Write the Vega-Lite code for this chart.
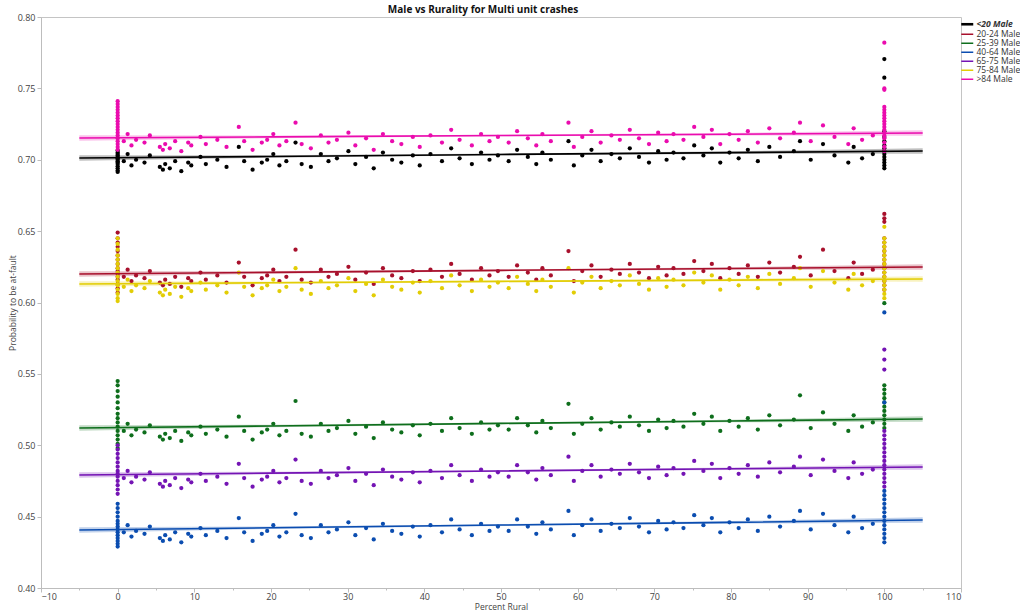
{
  "$schema": "https://vega.github.io/schema/vega-lite/v6.json",
  "width": 920,
  "height": 571,
  "autosize": {"type": "none"},
  "padding": {"left": 41, "top": 17, "right": 59, "bottom": 25},
  "background": "white",
  "config": {
    "view": {"stroke": "#c4c4c4", "strokeWidth": 1},
    "font": "Open Sans",
    "axis": {
      "grid": false,
      "domainColor": "#bdbdbd",
      "tickColor": "#bdbdbd",
      "labelColor": "#444444",
      "labelFont": "Open Sans",
      "labelFontSize": 9,
      "titleFont": "Open Sans",
      "titleFontSize": 8.5,
      "titleFontWeight": "normal",
      "titleColor": "#444444"
    }
  },
  "title": {
    "text": "Male vs Rurality for Multi unit crashes",
    "font": "Open Sans",
    "fontSize": 10,
    "fontWeight": "bold",
    "color": "#111111",
    "anchor": "middle",
    "frame": "group",
    "dx": -18,
    "offset": -2
  },
  "resolve": {"legend": {"color": "independent"}},
  "datasets": {
    "fits": [
      {"g": "<20 Male", "x": -5, "y": 0.7012, "lo": 0.6993, "hi": 0.7031},
      {"g": "<20 Male", "x": 20, "y": 0.7023, "lo": 0.7014, "hi": 0.7032},
      {"g": "<20 Male", "x": 50, "y": 0.7037, "lo": 0.7031, "hi": 0.7043},
      {"g": "<20 Male", "x": 80, "y": 0.7050, "lo": 0.7041, "hi": 0.7059},
      {"g": "<20 Male", "x": 105, "y": 0.7061, "lo": 0.7042, "hi": 0.7080},
      {"g": "20-24 Male", "x": -5, "y": 0.6200, "lo": 0.6181, "hi": 0.6219},
      {"g": "20-24 Male", "x": 20, "y": 0.6211, "lo": 0.6202, "hi": 0.6220},
      {"g": "20-24 Male", "x": 50, "y": 0.6225, "lo": 0.6219, "hi": 0.6231},
      {"g": "20-24 Male", "x": 80, "y": 0.6238, "lo": 0.6229, "hi": 0.6247},
      {"g": "20-24 Male", "x": 105, "y": 0.6249, "lo": 0.6230, "hi": 0.6268},
      {"g": "25-39 Male", "x": -5, "y": 0.5121, "lo": 0.5102, "hi": 0.5140},
      {"g": "25-39 Male", "x": 20, "y": 0.5135, "lo": 0.5126, "hi": 0.5144},
      {"g": "25-39 Male", "x": 50, "y": 0.5153, "lo": 0.5147, "hi": 0.5159},
      {"g": "25-39 Male", "x": 80, "y": 0.5170, "lo": 0.5161, "hi": 0.5179},
      {"g": "25-39 Male", "x": 105, "y": 0.5184, "lo": 0.5165, "hi": 0.5203},
      {"g": "40-64 Male", "x": -5, "y": 0.4406, "lo": 0.4387, "hi": 0.4425},
      {"g": "40-64 Male", "x": 20, "y": 0.4422, "lo": 0.4413, "hi": 0.4431},
      {"g": "40-64 Male", "x": 50, "y": 0.4441, "lo": 0.4435, "hi": 0.4447},
      {"g": "40-64 Male", "x": 80, "y": 0.4460, "lo": 0.4451, "hi": 0.4469},
      {"g": "40-64 Male", "x": 105, "y": 0.4476, "lo": 0.4457, "hi": 0.4495},
      {"g": "65-75 Male", "x": -5, "y": 0.4792, "lo": 0.4773, "hi": 0.4811},
      {"g": "65-75 Male", "x": 20, "y": 0.4805, "lo": 0.4796, "hi": 0.4814},
      {"g": "65-75 Male", "x": 50, "y": 0.4820, "lo": 0.4814, "hi": 0.4826},
      {"g": "65-75 Male", "x": 80, "y": 0.4835, "lo": 0.4826, "hi": 0.4844},
      {"g": "65-75 Male", "x": 105, "y": 0.4848, "lo": 0.4829, "hi": 0.4867},
      {"g": "75-84 Male", "x": -5, "y": 0.6130, "lo": 0.6111, "hi": 0.6149},
      {"g": "75-84 Male", "x": 20, "y": 0.6138, "lo": 0.6129, "hi": 0.6147},
      {"g": "75-84 Male", "x": 50, "y": 0.6148, "lo": 0.6142, "hi": 0.6154},
      {"g": "75-84 Male", "x": 80, "y": 0.6157, "lo": 0.6148, "hi": 0.6166},
      {"g": "75-84 Male", "x": 105, "y": 0.6165, "lo": 0.6146, "hi": 0.6184},
      {"g": ">84 Male", "x": -5, "y": 0.7152, "lo": 0.7133, "hi": 0.7171},
      {"g": ">84 Male", "x": 20, "y": 0.7160, "lo": 0.7151, "hi": 0.7169},
      {"g": ">84 Male", "x": 50, "y": 0.7170, "lo": 0.7164, "hi": 0.7176},
      {"g": ">84 Male", "x": 80, "y": 0.7179, "lo": 0.7170, "hi": 0.7188},
      {"g": ">84 Male", "x": 105, "y": 0.7187, "lo": 0.7168, "hi": 0.7206}
    ],
    "pts": [
      {"g":"<20 Male","x":0,"y":0.7065},{"g":"<20 Male","x":0,"y":0.705},{"g":"<20 Male","x":0,"y":0.704},{"g":"<20 Male","x":0,"y":0.703},{"g":"<20 Male","x":0,"y":0.702},{"g":"<20 Male","x":0,"y":0.701},{"g":"<20 Male","x":0,"y":0.700},{"g":"<20 Male","x":0,"y":0.699},{"g":"<20 Male","x":0,"y":0.698},{"g":"<20 Male","x":0,"y":0.697},{"g":"<20 Male","x":0,"y":0.6955},{"g":"<20 Male","x":0,"y":0.694},{"g":"<20 Male","x":0,"y":0.6925},{"g":"<20 Male","x":0,"y":0.6915},
      {"g":"<20 Male","x":0.8,"y":0.699},{"g":"<20 Male","x":1.3,"y":0.704},{"g":"<20 Male","x":1.8,"y":0.696},{"g":"<20 Male","x":2.4,"y":0.700},{"g":"<20 Male","x":3.5,"y":0.698},{"g":"<20 Male","x":4.2,"y":0.703},{"g":"<20 Male","x":5.5,"y":0.695},{"g":"<20 Male","x":5.9,"y":0.693},{"g":"<20 Male","x":6.2,"y":0.697},{"g":"<20 Male","x":6.8,"y":0.694},{"g":"<20 Male","x":7.5,"y":0.699},{"g":"<20 Male","x":8.3,"y":0.692},{"g":"<20 Male","x":9.2,"y":0.698},{"g":"<20 Male","x":9.6,"y":0.696},{"g":"<20 Male","x":10.8,"y":0.702},{"g":"<20 Male","x":11.5,"y":0.697},{"g":"<20 Male","x":13.0,"y":0.700},{"g":"<20 Male","x":14.2,"y":0.695},{"g":"<20 Male","x":15.8,"y":0.709},{"g":"<20 Male","x":16.5,"y":0.699},{"g":"<20 Male","x":17.6,"y":0.693},{"g":"<20 Male","x":18.8,"y":0.698},{"g":"<20 Male","x":19.5,"y":0.700},{"g":"<20 Male","x":20.3,"y":0.704},{"g":"<20 Male","x":21.1,"y":0.696},{"g":"<20 Male","x":22.0,"y":0.699},{"g":"<20 Male","x":23.2,"y":0.712},{"g":"<20 Male","x":24.0,"y":0.697},
      {"g":"<20 Male","x":25.2,"y":0.695},{"g":"<20 Male","x":26.5,"y":0.704},{"g":"<20 Male","x":27.5,"y":0.699},{"g":"<20 Male","x":28.6,"y":0.701},{"g":"<20 Male","x":30.1,"y":0.706},{"g":"<20 Male","x":31.0,"y":0.697},{"g":"<20 Male","x":32.4,"y":0.702},{"g":"<20 Male","x":33.4,"y":0.694},{"g":"<20 Male","x":34.6,"y":0.705},{"g":"<20 Male","x":35.8,"y":0.700},{"g":"<20 Male","x":37.0,"y":0.698},{"g":"<20 Male","x":38.5,"y":0.703},{"g":"<20 Male","x":39.4,"y":0.696},{"g":"<20 Male","x":40.8,"y":0.704},{"g":"<20 Male","x":42.3,"y":0.699},{"g":"<20 Male","x":43.5,"y":0.708},{"g":"<20 Male","x":44.6,"y":0.701},{"g":"<20 Male","x":46.2,"y":0.697},{"g":"<20 Male","x":47.4,"y":0.705},{"g":"<20 Male","x":48.5,"y":0.700},{"g":"<20 Male","x":49.6,"y":0.703},
      {"g":"<20 Male","x":51.0,"y":0.699},{"g":"<20 Male","x":52.1,"y":0.707},{"g":"<20 Male","x":53.5,"y":0.702},{"g":"<20 Male","x":54.6,"y":0.697},{"g":"<20 Male","x":55.4,"y":0.705},{"g":"<20 Male","x":56.5,"y":0.700},{"g":"<20 Male","x":58.8,"y":0.713},{"g":"<20 Male","x":59.5,"y":0.696},{"g":"<20 Male","x":60.6,"y":0.703},{"g":"<20 Male","x":61.8,"y":0.707},{"g":"<20 Male","x":63.0,"y":0.699},{"g":"<20 Male","x":64.4,"y":0.704},{"g":"<20 Male","x":65.5,"y":0.701},{"g":"<20 Male","x":66.8,"y":0.708},{"g":"<20 Male","x":68.0,"y":0.702},{"g":"<20 Male","x":69.3,"y":0.698},{"g":"<20 Male","x":70.5,"y":0.706},{"g":"<20 Male","x":71.6,"y":0.700},{"g":"<20 Male","x":72.5,"y":0.705},{"g":"<20 Male","x":73.8,"y":0.701},
      {"g":"<20 Male","x":75.2,"y":0.710},{"g":"<20 Male","x":76.4,"y":0.703},{"g":"<20 Male","x":77.5,"y":0.708},{"g":"<20 Male","x":78.6,"y":0.698},{"g":"<20 Male","x":79.8,"y":0.705},{"g":"<20 Male","x":81.0,"y":0.701},{"g":"<20 Male","x":82.2,"y":0.707},{"g":"<20 Male","x":83.5,"y":0.699},{"g":"<20 Male","x":85.0,"y":0.709},{"g":"<20 Male","x":86.4,"y":0.702},{"g":"<20 Male","x":88.2,"y":0.706},{"g":"<20 Male","x":89.0,"y":0.713},{"g":"<20 Male","x":90.4,"y":0.700},{"g":"<20 Male","x":92.0,"y":0.711},{"g":"<20 Male","x":93.5,"y":0.703},{"g":"<20 Male","x":95.3,"y":0.698},{"g":"<20 Male","x":96.0,"y":0.709},{"g":"<20 Male","x":97.1,"y":0.701},{"g":"<20 Male","x":98.5,"y":0.704},
      {"g":"<20 Male","x":100,"y":0.7705},{"g":"<20 Male","x":100,"y":0.7575},{"g":"<20 Male","x":100,"y":0.720},{"g":"<20 Male","x":100,"y":0.716},{"g":"<20 Male","x":100,"y":0.713},{"g":"<20 Male","x":100,"y":0.710},{"g":"<20 Male","x":100,"y":0.708},{"g":"<20 Male","x":100,"y":0.706},{"g":"<20 Male","x":100,"y":0.704},{"g":"<20 Male","x":100,"y":0.702},{"g":"<20 Male","x":100,"y":0.700},{"g":"<20 Male","x":100,"y":0.698},{"g":"<20 Male","x":100,"y":0.696},{"g":"<20 Male","x":100,"y":0.694},

      {"g":"20-24 Male","x":0,"y":0.649},{"g":"20-24 Male","x":0,"y":0.645},{"g":"20-24 Male","x":0,"y":0.642},{"g":"20-24 Male","x":0,"y":0.639},{"g":"20-24 Male","x":0,"y":0.636},{"g":"20-24 Male","x":0,"y":0.633},{"g":"20-24 Male","x":0,"y":0.630},{"g":"20-24 Male","x":0,"y":0.627},{"g":"20-24 Male","x":0,"y":0.624},{"g":"20-24 Male","x":0,"y":0.622},{"g":"20-24 Male","x":0,"y":0.620},{"g":"20-24 Male","x":0,"y":0.618},{"g":"20-24 Male","x":0,"y":0.616},{"g":"20-24 Male","x":0,"y":0.613},{"g":"20-24 Male","x":0,"y":0.610},{"g":"20-24 Male","x":0,"y":0.607},
      {"g":"20-24 Male","x":0.8,"y":0.618},{"g":"20-24 Male","x":1.3,"y":0.623},{"g":"20-24 Male","x":1.8,"y":0.615},{"g":"20-24 Male","x":2.4,"y":0.619},{"g":"20-24 Male","x":3.5,"y":0.617},{"g":"20-24 Male","x":4.2,"y":0.622},{"g":"20-24 Male","x":5.5,"y":0.614},{"g":"20-24 Male","x":5.9,"y":0.612},{"g":"20-24 Male","x":6.2,"y":0.616},{"g":"20-24 Male","x":6.8,"y":0.613},{"g":"20-24 Male","x":7.5,"y":0.618},{"g":"20-24 Male","x":8.3,"y":0.611},{"g":"20-24 Male","x":9.2,"y":0.617},{"g":"20-24 Male","x":9.6,"y":0.615},{"g":"20-24 Male","x":10.8,"y":0.621},{"g":"20-24 Male","x":11.5,"y":0.616},{"g":"20-24 Male","x":13.0,"y":0.619},{"g":"20-24 Male","x":14.2,"y":0.614},{"g":"20-24 Male","x":15.8,"y":0.628},{"g":"20-24 Male","x":16.5,"y":0.618},{"g":"20-24 Male","x":17.6,"y":0.612},{"g":"20-24 Male","x":18.8,"y":0.617},{"g":"20-24 Male","x":19.5,"y":0.619},{"g":"20-24 Male","x":20.3,"y":0.623},{"g":"20-24 Male","x":21.1,"y":0.615},{"g":"20-24 Male","x":22.0,"y":0.618},{"g":"20-24 Male","x":23.2,"y":0.637},{"g":"20-24 Male","x":24.0,"y":0.616},
      {"g":"20-24 Male","x":25.2,"y":0.614},{"g":"20-24 Male","x":26.5,"y":0.623},{"g":"20-24 Male","x":27.5,"y":0.618},{"g":"20-24 Male","x":28.6,"y":0.620},{"g":"20-24 Male","x":30.1,"y":0.625},{"g":"20-24 Male","x":31.0,"y":0.616},{"g":"20-24 Male","x":32.4,"y":0.621},{"g":"20-24 Male","x":33.4,"y":0.613},{"g":"20-24 Male","x":34.6,"y":0.624},{"g":"20-24 Male","x":35.8,"y":0.619},{"g":"20-24 Male","x":37.0,"y":0.617},{"g":"20-24 Male","x":38.5,"y":0.622},{"g":"20-24 Male","x":39.4,"y":0.615},{"g":"20-24 Male","x":40.8,"y":0.623},{"g":"20-24 Male","x":42.3,"y":0.618},{"g":"20-24 Male","x":43.5,"y":0.627},{"g":"20-24 Male","x":44.6,"y":0.620},{"g":"20-24 Male","x":46.2,"y":0.616},{"g":"20-24 Male","x":47.4,"y":0.624},{"g":"20-24 Male","x":48.5,"y":0.619},{"g":"20-24 Male","x":49.6,"y":0.622},
      {"g":"20-24 Male","x":51.0,"y":0.618},{"g":"20-24 Male","x":52.1,"y":0.626},{"g":"20-24 Male","x":53.5,"y":0.621},{"g":"20-24 Male","x":54.6,"y":0.616},{"g":"20-24 Male","x":55.4,"y":0.624},{"g":"20-24 Male","x":56.5,"y":0.619},{"g":"20-24 Male","x":58.8,"y":0.636},{"g":"20-24 Male","x":59.5,"y":0.615},{"g":"20-24 Male","x":60.6,"y":0.622},{"g":"20-24 Male","x":61.8,"y":0.626},{"g":"20-24 Male","x":63.0,"y":0.618},{"g":"20-24 Male","x":64.4,"y":0.623},{"g":"20-24 Male","x":65.5,"y":0.620},{"g":"20-24 Male","x":66.8,"y":0.627},{"g":"20-24 Male","x":68.0,"y":0.621},{"g":"20-24 Male","x":69.3,"y":0.617},{"g":"20-24 Male","x":70.5,"y":0.625},{"g":"20-24 Male","x":71.6,"y":0.619},{"g":"20-24 Male","x":72.5,"y":0.624},{"g":"20-24 Male","x":73.8,"y":0.620},
      {"g":"20-24 Male","x":75.2,"y":0.629},{"g":"20-24 Male","x":76.4,"y":0.622},{"g":"20-24 Male","x":77.5,"y":0.627},{"g":"20-24 Male","x":78.6,"y":0.617},{"g":"20-24 Male","x":79.8,"y":0.624},{"g":"20-24 Male","x":81.0,"y":0.620},{"g":"20-24 Male","x":82.2,"y":0.626},{"g":"20-24 Male","x":83.5,"y":0.618},{"g":"20-24 Male","x":85.0,"y":0.628},{"g":"20-24 Male","x":86.4,"y":0.621},{"g":"20-24 Male","x":88.2,"y":0.625},{"g":"20-24 Male","x":89.0,"y":0.632},{"g":"20-24 Male","x":90.4,"y":0.619},{"g":"20-24 Male","x":92.0,"y":0.637},{"g":"20-24 Male","x":93.5,"y":0.622},{"g":"20-24 Male","x":95.3,"y":0.617},{"g":"20-24 Male","x":96.0,"y":0.628},{"g":"20-24 Male","x":97.1,"y":0.620},{"g":"20-24 Male","x":98.5,"y":0.623},
      {"g":"20-24 Male","x":100,"y":0.662},{"g":"20-24 Male","x":100,"y":0.659},{"g":"20-24 Male","x":100,"y":0.6565},{"g":"20-24 Male","x":100,"y":0.645},{"g":"20-24 Male","x":100,"y":0.642},{"g":"20-24 Male","x":100,"y":0.639},{"g":"20-24 Male","x":100,"y":0.636},{"g":"20-24 Male","x":100,"y":0.633},{"g":"20-24 Male","x":100,"y":0.630},{"g":"20-24 Male","x":100,"y":0.627},{"g":"20-24 Male","x":100,"y":0.624},{"g":"20-24 Male","x":100,"y":0.621},{"g":"20-24 Male","x":100,"y":0.618},{"g":"20-24 Male","x":100,"y":0.615},{"g":"20-24 Male","x":100,"y":0.612},{"g":"20-24 Male","x":100,"y":0.609},

      {"g":"25-39 Male","x":0,"y":0.545},{"g":"25-39 Male","x":0,"y":0.542},{"g":"25-39 Male","x":0,"y":0.538},{"g":"25-39 Male","x":0,"y":0.534},{"g":"25-39 Male","x":0,"y":0.530},{"g":"25-39 Male","x":0,"y":0.526},{"g":"25-39 Male","x":0,"y":0.522},{"g":"25-39 Male","x":0,"y":0.519},{"g":"25-39 Male","x":0,"y":0.516},{"g":"25-39 Male","x":0,"y":0.513},{"g":"25-39 Male","x":0,"y":0.510},{"g":"25-39 Male","x":0,"y":0.507},{"g":"25-39 Male","x":0,"y":0.504},{"g":"25-39 Male","x":0,"y":0.501},{"g":"25-39 Male","x":0,"y":0.498},
      {"g":"25-39 Male","x":0.8,"y":0.510},{"g":"25-39 Male","x":1.3,"y":0.515},{"g":"25-39 Male","x":1.8,"y":0.507},{"g":"25-39 Male","x":2.4,"y":0.511},{"g":"25-39 Male","x":3.5,"y":0.509},{"g":"25-39 Male","x":4.2,"y":0.514},{"g":"25-39 Male","x":5.5,"y":0.506},{"g":"25-39 Male","x":5.9,"y":0.504},{"g":"25-39 Male","x":6.2,"y":0.508},{"g":"25-39 Male","x":6.8,"y":0.505},{"g":"25-39 Male","x":7.5,"y":0.510},{"g":"25-39 Male","x":8.3,"y":0.503},{"g":"25-39 Male","x":9.2,"y":0.509},{"g":"25-39 Male","x":9.6,"y":0.507},{"g":"25-39 Male","x":10.8,"y":0.513},{"g":"25-39 Male","x":11.5,"y":0.508},{"g":"25-39 Male","x":13.0,"y":0.511},{"g":"25-39 Male","x":14.2,"y":0.506},{"g":"25-39 Male","x":15.8,"y":0.520},{"g":"25-39 Male","x":16.5,"y":0.510},{"g":"25-39 Male","x":17.6,"y":0.504},{"g":"25-39 Male","x":18.8,"y":0.509},{"g":"25-39 Male","x":19.5,"y":0.511},{"g":"25-39 Male","x":20.3,"y":0.515},{"g":"25-39 Male","x":21.1,"y":0.507},{"g":"25-39 Male","x":22.0,"y":0.510},{"g":"25-39 Male","x":23.2,"y":0.531},{"g":"25-39 Male","x":24.0,"y":0.508},
      {"g":"25-39 Male","x":25.2,"y":0.506},{"g":"25-39 Male","x":26.5,"y":0.515},{"g":"25-39 Male","x":27.5,"y":0.510},{"g":"25-39 Male","x":28.6,"y":0.512},{"g":"25-39 Male","x":30.1,"y":0.517},{"g":"25-39 Male","x":31.0,"y":0.508},{"g":"25-39 Male","x":32.4,"y":0.513},{"g":"25-39 Male","x":33.4,"y":0.505},{"g":"25-39 Male","x":34.6,"y":0.516},{"g":"25-39 Male","x":35.8,"y":0.511},{"g":"25-39 Male","x":37.0,"y":0.509},{"g":"25-39 Male","x":38.5,"y":0.514},{"g":"25-39 Male","x":39.4,"y":0.507},{"g":"25-39 Male","x":40.8,"y":0.515},{"g":"25-39 Male","x":42.3,"y":0.510},{"g":"25-39 Male","x":43.5,"y":0.519},{"g":"25-39 Male","x":44.6,"y":0.512},{"g":"25-39 Male","x":46.2,"y":0.508},{"g":"25-39 Male","x":47.4,"y":0.516},{"g":"25-39 Male","x":48.5,"y":0.511},{"g":"25-39 Male","x":49.6,"y":0.514},
      {"g":"25-39 Male","x":51.0,"y":0.511},{"g":"25-39 Male","x":52.1,"y":0.519},{"g":"25-39 Male","x":53.5,"y":0.514},{"g":"25-39 Male","x":54.6,"y":0.509},{"g":"25-39 Male","x":55.4,"y":0.517},{"g":"25-39 Male","x":56.5,"y":0.512},{"g":"25-39 Male","x":58.8,"y":0.529},{"g":"25-39 Male","x":59.5,"y":0.508},{"g":"25-39 Male","x":60.6,"y":0.515},{"g":"25-39 Male","x":61.8,"y":0.519},{"g":"25-39 Male","x":63.0,"y":0.511},{"g":"25-39 Male","x":64.4,"y":0.516},{"g":"25-39 Male","x":65.5,"y":0.513},{"g":"25-39 Male","x":66.8,"y":0.520},{"g":"25-39 Male","x":68.0,"y":0.514},{"g":"25-39 Male","x":69.3,"y":0.510},{"g":"25-39 Male","x":70.5,"y":0.518},{"g":"25-39 Male","x":71.6,"y":0.512},{"g":"25-39 Male","x":72.5,"y":0.517},{"g":"25-39 Male","x":73.8,"y":0.513},
      {"g":"25-39 Male","x":75.2,"y":0.522},{"g":"25-39 Male","x":76.4,"y":0.515},{"g":"25-39 Male","x":77.5,"y":0.520},{"g":"25-39 Male","x":78.6,"y":0.510},{"g":"25-39 Male","x":79.8,"y":0.517},{"g":"25-39 Male","x":81.0,"y":0.513},{"g":"25-39 Male","x":82.2,"y":0.519},{"g":"25-39 Male","x":83.5,"y":0.511},{"g":"25-39 Male","x":85.0,"y":0.521},{"g":"25-39 Male","x":86.4,"y":0.514},{"g":"25-39 Male","x":88.2,"y":0.518},{"g":"25-39 Male","x":89.0,"y":0.535},{"g":"25-39 Male","x":90.4,"y":0.512},{"g":"25-39 Male","x":92.0,"y":0.523},{"g":"25-39 Male","x":93.5,"y":0.515},{"g":"25-39 Male","x":95.3,"y":0.510},{"g":"25-39 Male","x":96.0,"y":0.521},{"g":"25-39 Male","x":97.1,"y":0.513},{"g":"25-39 Male","x":98.5,"y":0.516},
      {"g":"25-39 Male","x":100,"y":0.5995},{"g":"25-39 Male","x":100,"y":0.542},{"g":"25-39 Male","x":100,"y":0.539},{"g":"25-39 Male","x":100,"y":0.536},{"g":"25-39 Male","x":100,"y":0.533},{"g":"25-39 Male","x":100,"y":0.530},{"g":"25-39 Male","x":100,"y":0.527},{"g":"25-39 Male","x":100,"y":0.524},{"g":"25-39 Male","x":100,"y":0.521},{"g":"25-39 Male","x":100,"y":0.518},{"g":"25-39 Male","x":100,"y":0.515},{"g":"25-39 Male","x":100,"y":0.512},

      {"g":"40-64 Male","x":0,"y":0.459},{"g":"40-64 Male","x":0,"y":0.456},{"g":"40-64 Male","x":0,"y":0.453},{"g":"40-64 Male","x":0,"y":0.450},{"g":"40-64 Male","x":0,"y":0.447},{"g":"40-64 Male","x":0,"y":0.445},{"g":"40-64 Male","x":0,"y":0.443},{"g":"40-64 Male","x":0,"y":0.441},{"g":"40-64 Male","x":0,"y":0.439},{"g":"40-64 Male","x":0,"y":0.437},{"g":"40-64 Male","x":0,"y":0.435},{"g":"40-64 Male","x":0,"y":0.433},{"g":"40-64 Male","x":0,"y":0.431},{"g":"40-64 Male","x":0,"y":0.429},
      {"g":"40-64 Male","x":0.8,"y":0.439},{"g":"40-64 Male","x":1.3,"y":0.444},{"g":"40-64 Male","x":1.8,"y":0.436},{"g":"40-64 Male","x":2.4,"y":0.440},{"g":"40-64 Male","x":3.5,"y":0.438},{"g":"40-64 Male","x":4.2,"y":0.443},{"g":"40-64 Male","x":5.5,"y":0.435},{"g":"40-64 Male","x":5.9,"y":0.433},{"g":"40-64 Male","x":6.2,"y":0.437},{"g":"40-64 Male","x":6.8,"y":0.434},{"g":"40-64 Male","x":7.5,"y":0.439},{"g":"40-64 Male","x":8.3,"y":0.432},{"g":"40-64 Male","x":9.2,"y":0.438},{"g":"40-64 Male","x":9.6,"y":0.436},{"g":"40-64 Male","x":10.8,"y":0.442},{"g":"40-64 Male","x":11.5,"y":0.437},{"g":"40-64 Male","x":13.0,"y":0.440},{"g":"40-64 Male","x":14.2,"y":0.435},{"g":"40-64 Male","x":15.8,"y":0.449},{"g":"40-64 Male","x":16.5,"y":0.439},{"g":"40-64 Male","x":17.6,"y":0.433},{"g":"40-64 Male","x":18.8,"y":0.438},{"g":"40-64 Male","x":19.5,"y":0.440},{"g":"40-64 Male","x":20.3,"y":0.444},{"g":"40-64 Male","x":21.1,"y":0.436},{"g":"40-64 Male","x":22.0,"y":0.439},{"g":"40-64 Male","x":23.2,"y":0.452},{"g":"40-64 Male","x":24.0,"y":0.437},
      {"g":"40-64 Male","x":25.2,"y":0.435},{"g":"40-64 Male","x":26.5,"y":0.444},{"g":"40-64 Male","x":27.5,"y":0.439},{"g":"40-64 Male","x":28.6,"y":0.441},{"g":"40-64 Male","x":30.1,"y":0.446},{"g":"40-64 Male","x":31.0,"y":0.437},{"g":"40-64 Male","x":32.4,"y":0.442},{"g":"40-64 Male","x":33.4,"y":0.434},{"g":"40-64 Male","x":34.6,"y":0.445},{"g":"40-64 Male","x":35.8,"y":0.440},{"g":"40-64 Male","x":37.0,"y":0.438},{"g":"40-64 Male","x":38.5,"y":0.443},{"g":"40-64 Male","x":39.4,"y":0.436},{"g":"40-64 Male","x":40.8,"y":0.444},{"g":"40-64 Male","x":42.3,"y":0.439},{"g":"40-64 Male","x":43.5,"y":0.448},{"g":"40-64 Male","x":44.6,"y":0.441},{"g":"40-64 Male","x":46.2,"y":0.437},{"g":"40-64 Male","x":47.4,"y":0.445},{"g":"40-64 Male","x":48.5,"y":0.440},{"g":"40-64 Male","x":49.6,"y":0.443},
      {"g":"40-64 Male","x":51.0,"y":0.440},{"g":"40-64 Male","x":52.1,"y":0.448},{"g":"40-64 Male","x":53.5,"y":0.443},{"g":"40-64 Male","x":54.6,"y":0.438},{"g":"40-64 Male","x":55.4,"y":0.446},{"g":"40-64 Male","x":56.5,"y":0.441},{"g":"40-64 Male","x":58.8,"y":0.454},{"g":"40-64 Male","x":59.5,"y":0.437},{"g":"40-64 Male","x":60.6,"y":0.444},{"g":"40-64 Male","x":61.8,"y":0.448},{"g":"40-64 Male","x":63.0,"y":0.440},{"g":"40-64 Male","x":64.4,"y":0.445},{"g":"40-64 Male","x":65.5,"y":0.442},{"g":"40-64 Male","x":66.8,"y":0.449},{"g":"40-64 Male","x":68.0,"y":0.443},{"g":"40-64 Male","x":69.3,"y":0.439},{"g":"40-64 Male","x":70.5,"y":0.447},{"g":"40-64 Male","x":71.6,"y":0.441},{"g":"40-64 Male","x":72.5,"y":0.446},{"g":"40-64 Male","x":73.8,"y":0.442},
      {"g":"40-64 Male","x":75.2,"y":0.451},{"g":"40-64 Male","x":76.4,"y":0.444},{"g":"40-64 Male","x":77.5,"y":0.449},{"g":"40-64 Male","x":78.6,"y":0.439},{"g":"40-64 Male","x":79.8,"y":0.446},{"g":"40-64 Male","x":81.0,"y":0.442},{"g":"40-64 Male","x":82.2,"y":0.448},{"g":"40-64 Male","x":83.5,"y":0.440},{"g":"40-64 Male","x":85.0,"y":0.450},{"g":"40-64 Male","x":86.4,"y":0.443},{"g":"40-64 Male","x":88.2,"y":0.447},{"g":"40-64 Male","x":89.0,"y":0.454},{"g":"40-64 Male","x":90.4,"y":0.441},{"g":"40-64 Male","x":92.0,"y":0.452},{"g":"40-64 Male","x":93.5,"y":0.444},{"g":"40-64 Male","x":95.3,"y":0.439},{"g":"40-64 Male","x":96.0,"y":0.450},{"g":"40-64 Male","x":97.1,"y":0.442},{"g":"40-64 Male","x":98.5,"y":0.445},
      {"g":"40-64 Male","x":100,"y":0.593},{"g":"40-64 Male","x":100,"y":0.530},{"g":"40-64 Male","x":100,"y":0.468},{"g":"40-64 Male","x":100,"y":0.465},{"g":"40-64 Male","x":100,"y":0.462},{"g":"40-64 Male","x":100,"y":0.459},{"g":"40-64 Male","x":100,"y":0.456},{"g":"40-64 Male","x":100,"y":0.453},{"g":"40-64 Male","x":100,"y":0.450},{"g":"40-64 Male","x":100,"y":0.447},{"g":"40-64 Male","x":100,"y":0.444},{"g":"40-64 Male","x":100,"y":0.441},{"g":"40-64 Male","x":100,"y":0.438},{"g":"40-64 Male","x":100,"y":0.435},{"g":"40-64 Male","x":100,"y":0.432},

      {"g":"65-75 Male","x":0,"y":0.500},{"g":"65-75 Male","x":0,"y":0.497},{"g":"65-75 Male","x":0,"y":0.494},{"g":"65-75 Male","x":0,"y":0.491},{"g":"65-75 Male","x":0,"y":0.488},{"g":"65-75 Male","x":0,"y":0.485},{"g":"65-75 Male","x":0,"y":0.482},{"g":"65-75 Male","x":0,"y":0.480},{"g":"65-75 Male","x":0,"y":0.478},{"g":"65-75 Male","x":0,"y":0.475},{"g":"65-75 Male","x":0,"y":0.472},{"g":"65-75 Male","x":0,"y":0.469},{"g":"65-75 Male","x":0,"y":0.466},
      {"g":"65-75 Male","x":0.8,"y":0.477},{"g":"65-75 Male","x":1.3,"y":0.482},{"g":"65-75 Male","x":1.8,"y":0.474},{"g":"65-75 Male","x":2.4,"y":0.478},{"g":"65-75 Male","x":3.5,"y":0.476},{"g":"65-75 Male","x":4.2,"y":0.481},{"g":"65-75 Male","x":5.5,"y":0.473},{"g":"65-75 Male","x":5.9,"y":0.471},{"g":"65-75 Male","x":6.2,"y":0.475},{"g":"65-75 Male","x":6.8,"y":0.472},{"g":"65-75 Male","x":7.5,"y":0.477},{"g":"65-75 Male","x":8.3,"y":0.470},{"g":"65-75 Male","x":9.2,"y":0.476},{"g":"65-75 Male","x":9.6,"y":0.474},{"g":"65-75 Male","x":10.8,"y":0.480},{"g":"65-75 Male","x":11.5,"y":0.475},{"g":"65-75 Male","x":13.0,"y":0.478},{"g":"65-75 Male","x":14.2,"y":0.473},{"g":"65-75 Male","x":15.8,"y":0.487},{"g":"65-75 Male","x":16.5,"y":0.477},{"g":"65-75 Male","x":17.6,"y":0.471},{"g":"65-75 Male","x":18.8,"y":0.476},{"g":"65-75 Male","x":19.5,"y":0.478},{"g":"65-75 Male","x":20.3,"y":0.482},{"g":"65-75 Male","x":21.1,"y":0.474},{"g":"65-75 Male","x":22.0,"y":0.477},{"g":"65-75 Male","x":23.2,"y":0.490},{"g":"65-75 Male","x":24.0,"y":0.475},
      {"g":"65-75 Male","x":25.2,"y":0.473},{"g":"65-75 Male","x":26.5,"y":0.482},{"g":"65-75 Male","x":27.5,"y":0.477},{"g":"65-75 Male","x":28.6,"y":0.479},{"g":"65-75 Male","x":30.1,"y":0.484},{"g":"65-75 Male","x":31.0,"y":0.475},{"g":"65-75 Male","x":32.4,"y":0.480},{"g":"65-75 Male","x":33.4,"y":0.472},{"g":"65-75 Male","x":34.6,"y":0.483},{"g":"65-75 Male","x":35.8,"y":0.478},{"g":"65-75 Male","x":37.0,"y":0.476},{"g":"65-75 Male","x":38.5,"y":0.481},{"g":"65-75 Male","x":39.4,"y":0.474},{"g":"65-75 Male","x":40.8,"y":0.482},{"g":"65-75 Male","x":42.3,"y":0.477},{"g":"65-75 Male","x":43.5,"y":0.486},{"g":"65-75 Male","x":44.6,"y":0.479},{"g":"65-75 Male","x":46.2,"y":0.475},{"g":"65-75 Male","x":47.4,"y":0.483},{"g":"65-75 Male","x":48.5,"y":0.478},{"g":"65-75 Male","x":49.6,"y":0.481},
      {"g":"65-75 Male","x":51.0,"y":0.478},{"g":"65-75 Male","x":52.1,"y":0.486},{"g":"65-75 Male","x":53.5,"y":0.481},{"g":"65-75 Male","x":54.6,"y":0.476},{"g":"65-75 Male","x":55.4,"y":0.484},{"g":"65-75 Male","x":56.5,"y":0.479},{"g":"65-75 Male","x":58.8,"y":0.492},{"g":"65-75 Male","x":59.5,"y":0.475},{"g":"65-75 Male","x":60.6,"y":0.482},{"g":"65-75 Male","x":61.8,"y":0.486},{"g":"65-75 Male","x":63.0,"y":0.478},{"g":"65-75 Male","x":64.4,"y":0.483},{"g":"65-75 Male","x":65.5,"y":0.480},{"g":"65-75 Male","x":66.8,"y":0.487},{"g":"65-75 Male","x":68.0,"y":0.481},{"g":"65-75 Male","x":69.3,"y":0.477},{"g":"65-75 Male","x":70.5,"y":0.485},{"g":"65-75 Male","x":71.6,"y":0.479},{"g":"65-75 Male","x":72.5,"y":0.484},{"g":"65-75 Male","x":73.8,"y":0.480},
      {"g":"65-75 Male","x":75.2,"y":0.489},{"g":"65-75 Male","x":76.4,"y":0.482},{"g":"65-75 Male","x":77.5,"y":0.487},{"g":"65-75 Male","x":78.6,"y":0.477},{"g":"65-75 Male","x":79.8,"y":0.484},{"g":"65-75 Male","x":81.0,"y":0.480},{"g":"65-75 Male","x":82.2,"y":0.486},{"g":"65-75 Male","x":83.5,"y":0.478},{"g":"65-75 Male","x":85.0,"y":0.488},{"g":"65-75 Male","x":86.4,"y":0.481},{"g":"65-75 Male","x":88.2,"y":0.485},{"g":"65-75 Male","x":89.0,"y":0.492},{"g":"65-75 Male","x":90.4,"y":0.479},{"g":"65-75 Male","x":92.0,"y":0.490},{"g":"65-75 Male","x":93.5,"y":0.482},{"g":"65-75 Male","x":95.3,"y":0.477},{"g":"65-75 Male","x":96.0,"y":0.488},{"g":"65-75 Male","x":97.1,"y":0.480},{"g":"65-75 Male","x":98.5,"y":0.483},
      {"g":"65-75 Male","x":100,"y":0.567},{"g":"65-75 Male","x":100,"y":0.560},{"g":"65-75 Male","x":100,"y":0.553},{"g":"65-75 Male","x":100,"y":0.510},{"g":"65-75 Male","x":100,"y":0.507},{"g":"65-75 Male","x":100,"y":0.504},{"g":"65-75 Male","x":100,"y":0.501},{"g":"65-75 Male","x":100,"y":0.498},{"g":"65-75 Male","x":100,"y":0.495},{"g":"65-75 Male","x":100,"y":0.492},{"g":"65-75 Male","x":100,"y":0.489},{"g":"65-75 Male","x":100,"y":0.486},{"g":"65-75 Male","x":100,"y":0.483},{"g":"65-75 Male","x":100,"y":0.480},{"g":"65-75 Male","x":100,"y":0.477},{"g":"65-75 Male","x":100,"y":0.474},{"g":"65-75 Male","x":100,"y":0.471},

      {"g":"75-84 Male","x":0,"y":0.645},{"g":"75-84 Male","x":0,"y":0.641},{"g":"75-84 Male","x":0,"y":0.637},{"g":"75-84 Male","x":0,"y":0.633},{"g":"75-84 Male","x":0,"y":0.630},{"g":"75-84 Male","x":0,"y":0.627},{"g":"75-84 Male","x":0,"y":0.624},{"g":"75-84 Male","x":0,"y":0.621},{"g":"75-84 Male","x":0,"y":0.618},{"g":"75-84 Male","x":0,"y":0.615},{"g":"75-84 Male","x":0,"y":0.612},{"g":"75-84 Male","x":0,"y":0.609},{"g":"75-84 Male","x":0,"y":0.606},{"g":"75-84 Male","x":0,"y":0.603},{"g":"75-84 Male","x":0,"y":0.601},
      {"g":"75-84 Male","x":0.8,"y":0.611},{"g":"75-84 Male","x":1.3,"y":0.616},{"g":"75-84 Male","x":1.8,"y":0.608},{"g":"75-84 Male","x":2.4,"y":0.612},{"g":"75-84 Male","x":3.5,"y":0.610},{"g":"75-84 Male","x":4.2,"y":0.615},{"g":"75-84 Male","x":5.5,"y":0.607},{"g":"75-84 Male","x":5.9,"y":0.605},{"g":"75-84 Male","x":6.2,"y":0.609},{"g":"75-84 Male","x":6.8,"y":0.606},{"g":"75-84 Male","x":7.5,"y":0.611},{"g":"75-84 Male","x":8.3,"y":0.604},{"g":"75-84 Male","x":9.2,"y":0.610},{"g":"75-84 Male","x":9.6,"y":0.608},{"g":"75-84 Male","x":10.8,"y":0.614},{"g":"75-84 Male","x":11.5,"y":0.609},{"g":"75-84 Male","x":13.0,"y":0.612},{"g":"75-84 Male","x":14.2,"y":0.607},{"g":"75-84 Male","x":15.8,"y":0.621},{"g":"75-84 Male","x":16.5,"y":0.611},{"g":"75-84 Male","x":17.6,"y":0.605},{"g":"75-84 Male","x":18.8,"y":0.610},{"g":"75-84 Male","x":19.5,"y":0.612},{"g":"75-84 Male","x":20.3,"y":0.616},{"g":"75-84 Male","x":21.1,"y":0.608},{"g":"75-84 Male","x":22.0,"y":0.611},{"g":"75-84 Male","x":23.2,"y":0.624},{"g":"75-84 Male","x":24.0,"y":0.609},
      {"g":"75-84 Male","x":25.2,"y":0.606},{"g":"75-84 Male","x":26.5,"y":0.615},{"g":"75-84 Male","x":27.5,"y":0.610},{"g":"75-84 Male","x":28.6,"y":0.612},{"g":"75-84 Male","x":30.1,"y":0.617},{"g":"75-84 Male","x":31.0,"y":0.608},{"g":"75-84 Male","x":32.4,"y":0.613},{"g":"75-84 Male","x":33.4,"y":0.605},{"g":"75-84 Male","x":34.6,"y":0.616},{"g":"75-84 Male","x":35.8,"y":0.611},{"g":"75-84 Male","x":37.0,"y":0.609},{"g":"75-84 Male","x":38.5,"y":0.614},{"g":"75-84 Male","x":39.4,"y":0.607},{"g":"75-84 Male","x":40.8,"y":0.615},{"g":"75-84 Male","x":42.3,"y":0.610},{"g":"75-84 Male","x":43.5,"y":0.619},{"g":"75-84 Male","x":44.6,"y":0.612},{"g":"75-84 Male","x":46.2,"y":0.608},{"g":"75-84 Male","x":47.4,"y":0.616},{"g":"75-84 Male","x":48.5,"y":0.611},{"g":"75-84 Male","x":49.6,"y":0.614},
      {"g":"75-84 Male","x":51.0,"y":0.610},{"g":"75-84 Male","x":52.1,"y":0.618},{"g":"75-84 Male","x":53.5,"y":0.613},{"g":"75-84 Male","x":54.6,"y":0.608},{"g":"75-84 Male","x":55.4,"y":0.616},{"g":"75-84 Male","x":56.5,"y":0.611},{"g":"75-84 Male","x":58.8,"y":0.624},{"g":"75-84 Male","x":59.5,"y":0.607},{"g":"75-84 Male","x":60.6,"y":0.614},{"g":"75-84 Male","x":61.8,"y":0.618},{"g":"75-84 Male","x":63.0,"y":0.610},{"g":"75-84 Male","x":64.4,"y":0.615},{"g":"75-84 Male","x":65.5,"y":0.612},{"g":"75-84 Male","x":66.8,"y":0.619},{"g":"75-84 Male","x":68.0,"y":0.613},{"g":"75-84 Male","x":69.3,"y":0.609},{"g":"75-84 Male","x":70.5,"y":0.617},{"g":"75-84 Male","x":71.6,"y":0.611},{"g":"75-84 Male","x":72.5,"y":0.616},{"g":"75-84 Male","x":73.8,"y":0.612},
      {"g":"75-84 Male","x":75.2,"y":0.621},{"g":"75-84 Male","x":76.4,"y":0.614},{"g":"75-84 Male","x":77.5,"y":0.619},{"g":"75-84 Male","x":78.6,"y":0.609},{"g":"75-84 Male","x":79.8,"y":0.616},{"g":"75-84 Male","x":81.0,"y":0.612},{"g":"75-84 Male","x":82.2,"y":0.618},{"g":"75-84 Male","x":83.5,"y":0.610},{"g":"75-84 Male","x":85.0,"y":0.620},{"g":"75-84 Male","x":86.4,"y":0.613},{"g":"75-84 Male","x":88.2,"y":0.617},{"g":"75-84 Male","x":89.0,"y":0.624},{"g":"75-84 Male","x":90.4,"y":0.611},{"g":"75-84 Male","x":92.0,"y":0.622},{"g":"75-84 Male","x":93.5,"y":0.614},{"g":"75-84 Male","x":95.3,"y":0.609},{"g":"75-84 Male","x":96.0,"y":0.620},{"g":"75-84 Male","x":97.1,"y":0.612},{"g":"75-84 Male","x":98.5,"y":0.615},
      {"g":"75-84 Male","x":100,"y":0.653},{"g":"75-84 Male","x":100,"y":0.645},{"g":"75-84 Male","x":100,"y":0.642},{"g":"75-84 Male","x":100,"y":0.639},{"g":"75-84 Male","x":100,"y":0.636},{"g":"75-84 Male","x":100,"y":0.633},{"g":"75-84 Male","x":100,"y":0.630},{"g":"75-84 Male","x":100,"y":0.627},{"g":"75-84 Male","x":100,"y":0.624},{"g":"75-84 Male","x":100,"y":0.621},{"g":"75-84 Male","x":100,"y":0.618},{"g":"75-84 Male","x":100,"y":0.615},{"g":"75-84 Male","x":100,"y":0.612},{"g":"75-84 Male","x":100,"y":0.609},{"g":"75-84 Male","x":100,"y":0.606},{"g":"75-84 Male","x":100,"y":0.603},

      {"g":">84 Male","x":0,"y":0.741},{"g":">84 Male","x":0,"y":0.739},{"g":">84 Male","x":0,"y":0.737},{"g":">84 Male","x":0,"y":0.735},{"g":">84 Male","x":0,"y":0.733},{"g":">84 Male","x":0,"y":0.731},{"g":">84 Male","x":0,"y":0.729},{"g":">84 Male","x":0,"y":0.727},{"g":">84 Male","x":0,"y":0.725},{"g":">84 Male","x":0,"y":0.723},{"g":">84 Male","x":0,"y":0.721},{"g":">84 Male","x":0,"y":0.719},{"g":">84 Male","x":0,"y":0.717},{"g":">84 Male","x":0,"y":0.715},{"g":">84 Male","x":0,"y":0.713},{"g":">84 Male","x":0,"y":0.711},{"g":">84 Male","x":0,"y":0.709},{"g":">84 Male","x":0,"y":0.707},
      {"g":">84 Male","x":0.8,"y":0.713},{"g":">84 Male","x":1.3,"y":0.718},{"g":">84 Male","x":1.8,"y":0.710},{"g":">84 Male","x":2.4,"y":0.714},{"g":">84 Male","x":3.5,"y":0.712},{"g":">84 Male","x":4.2,"y":0.717},{"g":">84 Male","x":5.5,"y":0.709},{"g":">84 Male","x":5.9,"y":0.707},{"g":">84 Male","x":6.2,"y":0.711},{"g":">84 Male","x":6.8,"y":0.708},{"g":">84 Male","x":7.5,"y":0.713},{"g":">84 Male","x":8.3,"y":0.706},{"g":">84 Male","x":9.2,"y":0.712},{"g":">84 Male","x":9.6,"y":0.710},{"g":">84 Male","x":10.8,"y":0.716},{"g":">84 Male","x":11.5,"y":0.711},{"g":">84 Male","x":13.0,"y":0.714},{"g":">84 Male","x":14.2,"y":0.709},{"g":">84 Male","x":15.8,"y":0.723},{"g":">84 Male","x":16.5,"y":0.713},{"g":">84 Male","x":17.6,"y":0.707},{"g":">84 Male","x":18.8,"y":0.712},{"g":">84 Male","x":19.5,"y":0.714},{"g":">84 Male","x":20.3,"y":0.718},{"g":">84 Male","x":21.1,"y":0.710},{"g":">84 Male","x":22.0,"y":0.713},{"g":">84 Male","x":23.2,"y":0.726},{"g":">84 Male","x":24.0,"y":0.711},
      {"g":">84 Male","x":25.2,"y":0.708},{"g":">84 Male","x":26.5,"y":0.717},{"g":">84 Male","x":27.5,"y":0.712},{"g":">84 Male","x":28.6,"y":0.714},{"g":">84 Male","x":30.1,"y":0.719},{"g":">84 Male","x":31.0,"y":0.710},{"g":">84 Male","x":32.4,"y":0.715},{"g":">84 Male","x":33.4,"y":0.707},{"g":">84 Male","x":34.6,"y":0.718},{"g":">84 Male","x":35.8,"y":0.713},{"g":">84 Male","x":37.0,"y":0.711},{"g":">84 Male","x":38.5,"y":0.716},{"g":">84 Male","x":39.4,"y":0.709},{"g":">84 Male","x":40.8,"y":0.717},{"g":">84 Male","x":42.3,"y":0.712},{"g":">84 Male","x":43.5,"y":0.721},{"g":">84 Male","x":44.6,"y":0.714},{"g":">84 Male","x":46.2,"y":0.710},{"g":">84 Male","x":47.4,"y":0.718},{"g":">84 Male","x":48.5,"y":0.713},{"g":">84 Male","x":49.6,"y":0.716},
      {"g":">84 Male","x":51.0,"y":0.712},{"g":">84 Male","x":52.1,"y":0.720},{"g":">84 Male","x":53.5,"y":0.715},{"g":">84 Male","x":54.6,"y":0.710},{"g":">84 Male","x":55.4,"y":0.718},{"g":">84 Male","x":56.5,"y":0.713},{"g":">84 Male","x":58.8,"y":0.726},{"g":">84 Male","x":59.5,"y":0.709},{"g":">84 Male","x":60.6,"y":0.716},{"g":">84 Male","x":61.8,"y":0.720},{"g":">84 Male","x":63.0,"y":0.712},{"g":">84 Male","x":64.4,"y":0.717},{"g":">84 Male","x":65.5,"y":0.714},{"g":">84 Male","x":66.8,"y":0.721},{"g":">84 Male","x":68.0,"y":0.715},{"g":">84 Male","x":69.3,"y":0.711},{"g":">84 Male","x":70.5,"y":0.719},{"g":">84 Male","x":71.6,"y":0.713},{"g":">84 Male","x":72.5,"y":0.718},{"g":">84 Male","x":73.8,"y":0.714},
      {"g":">84 Male","x":75.2,"y":0.723},{"g":">84 Male","x":76.4,"y":0.716},{"g":">84 Male","x":77.5,"y":0.721},{"g":">84 Male","x":78.6,"y":0.711},{"g":">84 Male","x":79.8,"y":0.718},{"g":">84 Male","x":81.0,"y":0.714},{"g":">84 Male","x":82.2,"y":0.720},{"g":">84 Male","x":83.5,"y":0.712},{"g":">84 Male","x":85.0,"y":0.722},{"g":">84 Male","x":86.4,"y":0.715},{"g":">84 Male","x":88.2,"y":0.719},{"g":">84 Male","x":89.0,"y":0.726},{"g":">84 Male","x":90.4,"y":0.713},{"g":">84 Male","x":92.0,"y":0.724},{"g":">84 Male","x":93.5,"y":0.716},{"g":">84 Male","x":95.3,"y":0.711},{"g":">84 Male","x":96.0,"y":0.722},{"g":">84 Male","x":97.1,"y":0.714},{"g":">84 Male","x":98.5,"y":0.717},
      {"g":">84 Male","x":100,"y":0.782},{"g":">84 Male","x":100,"y":0.750},{"g":">84 Male","x":100,"y":0.749},{"g":">84 Male","x":100,"y":0.737},{"g":">84 Male","x":100,"y":0.735},{"g":">84 Male","x":100,"y":0.733},{"g":">84 Male","x":100,"y":0.731},{"g":">84 Male","x":100,"y":0.729},{"g":">84 Male","x":100,"y":0.727},{"g":">84 Male","x":100,"y":0.725},{"g":">84 Male","x":100,"y":0.723},{"g":">84 Male","x":100,"y":0.721},{"g":">84 Male","x":100,"y":0.719},{"g":">84 Male","x":100,"y":0.717},{"g":">84 Male","x":100,"y":0.715},{"g":">84 Male","x":100,"y":0.712},{"g":">84 Male","x":100,"y":0.709},{"g":">84 Male","x":100,"y":0.706}
    ]
  },
  "encoding": {
    "x": {
      "field": "x",
      "type": "quantitative",
      "scale": {"domain": [-10, 110], "nice": false, "zero": false},
      "axis": {
        "title": "Percent Rural",
        "values": [-10, -5, 0, 5, 10, 15, 20, 25, 30, 35, 40, 45, 50, 55, 60, 65, 70, 75, 80, 85, 90, 95, 100, 105, 110],
        "labelExpr": "datum.value % 10 === 0 ? datum.label : ''",
        "tickSize": {"condition": {"test": "datum.value % 10 === 0", "value": 4}, "value": 2},
        "labelPadding": 0,
        "titlePadding": 1
      }
    },
    "y": {
      "field": "y",
      "type": "quantitative",
      "scale": {"domain": [0.4, 0.8], "nice": false, "zero": false},
      "axis": {
        "title": "Probability to be at-fault",
        "values": [0.4, 0.45, 0.5, 0.55, 0.6, 0.65, 0.7, 0.75, 0.8],
        "format": ".2f",
        "tickSize": 4,
        "labelPadding": 2,
        "titlePadding": 0
      }
    },
    "color": {
      "field": "g",
      "type": "nominal",
      "scale": {
        "domain": ["<20 Male", "20-24 Male", "25-39 Male", "40-64 Male", "65-75 Male", "75-84 Male", ">84 Male"],
        "range": ["#000000", "#A8102C", "#0E6E1C", "#0B4DB0", "#7414B4", "#E2CD05", "#EA0CAE"]
      }
    }
  },
  "layer": [
    {
      "data": {"name": "fits"},
      "mark": {"type": "area", "opacity": 0.25},
      "encoding": {
        "y": {"field": "lo", "type": "quantitative"},
        "y2": {"field": "hi"},
        "color": {"field": "g", "type": "nominal", "legend": null}
      }
    },
    {
      "data": {"name": "pts"},
      "mark": {"type": "point", "filled": true, "size": 18, "opacity": 1, "shape": "circle"},
      "encoding": {
        "color": {"field": "g", "type": "nominal", "legend": null}
      }
    },
    {
      "data": {"name": "fits"},
      "mark": {"type": "line", "strokeWidth": 1.6},
      "encoding": {
        "color": {
          "field": "g",
          "type": "nominal",
          "legend": {
            "title": null,
            "orient": "none",
            "legendX": 922,
            "legendY": 3,
            "padding": 0,
            "symbolType": "stroke",
            "symbolSize": 144,
            "symbolStrokeWidth": 1.5,
            "labelFont": "Open Sans",
            "labelFontSize": 8.5,
            "labelColor": "#333333",
            "labelOffset": 5,
            "rowPadding": 0,
            "encode": {
              "labels": {
                "update": {
                  "fontWeight": {"signal": "datum.value === '<20 Male' ? 'bold' : 'normal'"},
                  "fontStyle": {"signal": "datum.value === '<20 Male' ? 'italic' : 'normal'"}
                }
              },
              "symbols": {
                "update": {
                  "strokeWidth": {"signal": "datum.value === '<20 Male' ? 2.6 : 1.5"}
                }
              }
            }
          }
        }
      }
    }
  ]
}
